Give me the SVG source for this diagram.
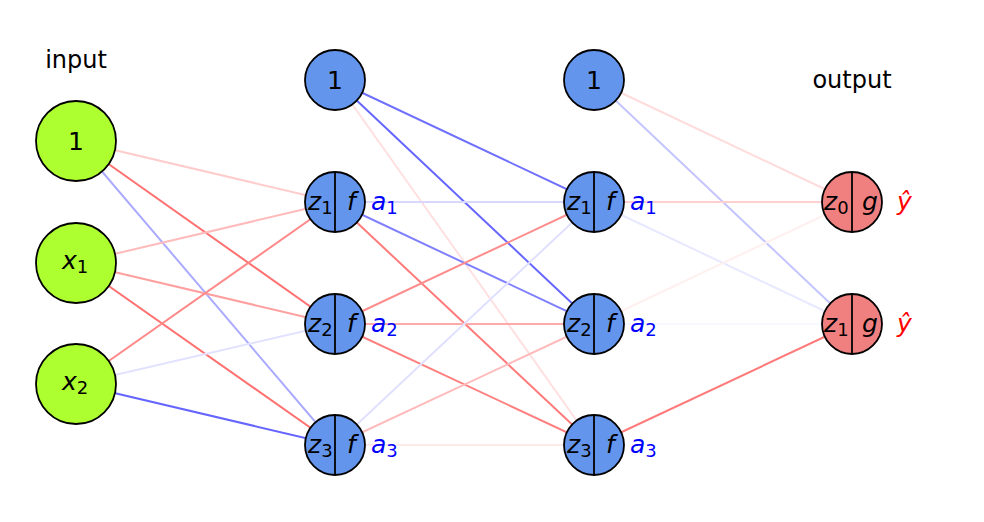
<svg xmlns="http://www.w3.org/2000/svg" width="984" height="522" viewBox="0 0 984 522">
<style>
text{font-family:"DejaVu Sans","Liberation Sans",sans-serif;font-size:25px;fill:#000}
.lbl{font-size:24px}
.n{stroke:#000;stroke-width:1.8}
.in{fill:#adff2f}
.hid{fill:#6495ed}
.out{fill:#f08080}
.i{font-style:italic}
.s{font-size:18px;font-style:normal}
.blue{fill:#0000ff}
.red{fill:#ff0000}
.c line{stroke-width:2}
</style>
<rect width="984" height="522" fill="#fff"/>
<g id="connectors" class="c">
<line x1="76" y1="141" x2="335" y2="202" stroke="#ffcccc"/>
<line x1="76" y1="141" x2="335" y2="324" stroke="#ff7070"/>
<line x1="76" y1="141" x2="335" y2="445" stroke="#aaaaff"/>
<line x1="76" y1="263" x2="335" y2="202" stroke="#ffbbbb"/>
<line x1="76" y1="263" x2="335" y2="324" stroke="#ffa0a0"/>
<line x1="76" y1="263" x2="335" y2="445" stroke="#ff7070"/>
<line x1="76" y1="384" x2="335" y2="202" stroke="#ff8888"/>
<line x1="76" y1="384" x2="335" y2="324" stroke="#e2e2ff"/>
<line x1="76" y1="384" x2="335" y2="445" stroke="#6666ff"/>
<line x1="335" y1="80" x2="594" y2="202" stroke="#7070ff"/>
<line x1="335" y1="80" x2="594" y2="324" stroke="#6666ff"/>
<line x1="335" y1="80" x2="594" y2="445" stroke="#ffe0e0"/>
<line x1="335" y1="202" x2="594" y2="202" stroke="#d8d8ff"/>
<line x1="335" y1="202" x2="594" y2="324" stroke="#8080ff"/>
<line x1="335" y1="202" x2="594" y2="445" stroke="#ff7a7a"/>
<line x1="335" y1="324" x2="594" y2="202" stroke="#ff8c8c"/>
<line x1="335" y1="324" x2="594" y2="324" stroke="#ffaaaa"/>
<line x1="335" y1="324" x2="594" y2="445" stroke="#ff8080"/>
<line x1="335" y1="445" x2="594" y2="202" stroke="#e0e0ff"/>
<line x1="335" y1="445" x2="594" y2="324" stroke="#ffbbbb"/>
<line x1="335" y1="445" x2="594" y2="445" stroke="#ffeaea"/>
<line x1="594" y1="80" x2="852" y2="202" stroke="#ffdcdc"/>
<line x1="594" y1="80" x2="852" y2="324" stroke="#c4c4ff"/>
<line x1="594" y1="202" x2="852" y2="202" stroke="#ffd0d0"/>
<line x1="594" y1="202" x2="852" y2="324" stroke="#e8e8ff"/>
<line x1="594" y1="324" x2="852" y2="202" stroke="#fff0f0"/>
<line x1="594" y1="324" x2="852" y2="324" stroke="#f8f8ff"/>
<line x1="594" y1="445" x2="852" y2="324" stroke="#ff7a7a"/>
</g>
<text class="lbl" x="76" y="68" text-anchor="middle">input</text>
<text class="lbl" x="852" y="88" text-anchor="middle">output</text>
<g id="in0"><circle class="n in" cx="76" cy="141" r="40"/><text x="76" y="150" text-anchor="middle">1</text></g>
<g id="in1"><circle class="n in" cx="76" cy="263" r="40"/><text x="62" y="269"><tspan class="i">x</tspan><tspan class="s" dy="4">1</tspan></text></g>
<g id="in2"><circle class="n in" cx="76" cy="384" r="40"/><text x="62" y="390"><tspan class="i">x</tspan><tspan class="s" dy="4">2</tspan></text></g>
<g id="h1b"><circle class="n hid" cx="335" cy="80" r="30"/><text x="335" y="89" text-anchor="middle">1</text></g>
<g id="h1n1"><circle class="n hid" cx="335" cy="202" r="30"/><line class="n" x1="335" y1="172" x2="335" y2="232"/><text x="308" y="210"><tspan class="i">z</tspan><tspan class="s" dy="4">1</tspan></text><text x="347" y="210" class="i">f</text><text x="371" y="210" class="blue"><tspan class="i">a</tspan><tspan class="s" dy="4">1</tspan></text></g>
<g id="h1n2"><circle class="n hid" cx="335" cy="324" r="30"/><line class="n" x1="335" y1="294" x2="335" y2="354"/><text x="308" y="332"><tspan class="i">z</tspan><tspan class="s" dy="4">2</tspan></text><text x="347" y="332" class="i">f</text><text x="371" y="332" class="blue"><tspan class="i">a</tspan><tspan class="s" dy="4">2</tspan></text></g>
<g id="h1n3"><circle class="n hid" cx="335" cy="445" r="30"/><line class="n" x1="335" y1="415" x2="335" y2="475"/><text x="308" y="453"><tspan class="i">z</tspan><tspan class="s" dy="4">3</tspan></text><text x="347" y="453" class="i">f</text><text x="371" y="453" class="blue"><tspan class="i">a</tspan><tspan class="s" dy="4">3</tspan></text></g>
<g id="h2b"><circle class="n hid" cx="594" cy="80" r="30"/><text x="594" y="89" text-anchor="middle">1</text></g>
<g id="h2n1"><circle class="n hid" cx="594" cy="202" r="30"/><line class="n" x1="594" y1="172" x2="594" y2="232"/><text x="567" y="210"><tspan class="i">z</tspan><tspan class="s" dy="4">1</tspan></text><text x="606" y="210" class="i">f</text><text x="630" y="210" class="blue"><tspan class="i">a</tspan><tspan class="s" dy="4">1</tspan></text></g>
<g id="h2n2"><circle class="n hid" cx="594" cy="324" r="30"/><line class="n" x1="594" y1="294" x2="594" y2="354"/><text x="567" y="332"><tspan class="i">z</tspan><tspan class="s" dy="4">2</tspan></text><text x="606" y="332" class="i">f</text><text x="630" y="332" class="blue"><tspan class="i">a</tspan><tspan class="s" dy="4">2</tspan></text></g>
<g id="h2n3"><circle class="n hid" cx="594" cy="445" r="30"/><line class="n" x1="594" y1="415" x2="594" y2="475"/><text x="567" y="453"><tspan class="i">z</tspan><tspan class="s" dy="4">3</tspan></text><text x="606" y="453" class="i">f</text><text x="630" y="453" class="blue"><tspan class="i">a</tspan><tspan class="s" dy="4">3</tspan></text></g>
<g id="o1"><circle class="n out" cx="852" cy="202" r="30"/><line class="n" x1="852" y1="172" x2="852" y2="232"/><text x="824" y="210"><tspan class="i">z</tspan><tspan class="s" dy="4">0</tspan></text><text x="862" y="210" class="i">g</text><text x="897" y="210" class="red i">ŷ</text></g>
<g id="o2"><circle class="n out" cx="852" cy="324" r="30"/><line class="n" x1="852" y1="294" x2="852" y2="354"/><text x="824" y="332"><tspan class="i">z</tspan><tspan class="s" dy="4">1</tspan></text><text x="862" y="332" class="i">g</text><text x="897" y="332" class="red i">ŷ</text></g>
</svg>
